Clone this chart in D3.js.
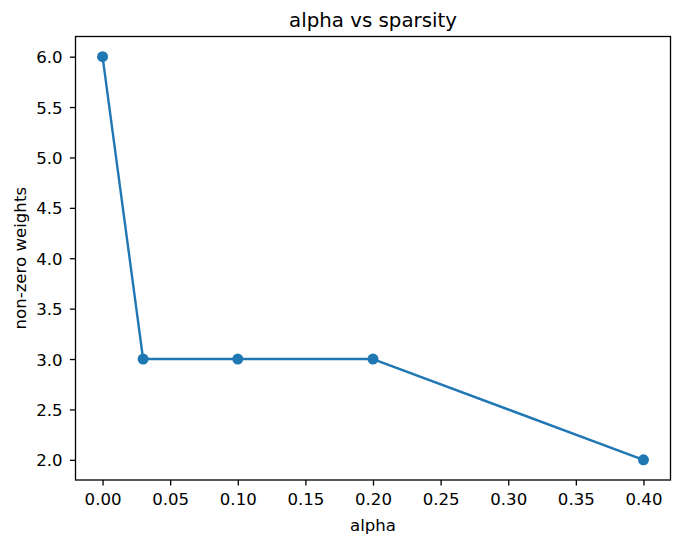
<!DOCTYPE html>
<html>
<head>
<meta charset="utf-8">
<script src="https://cdn.jsdelivr.net/npm/d3@7"></script>
<style>
  body { margin: 0; background: #fff; }
  text { font-family: "DejaVu Sans", sans-serif; fill: #000; }
</style>
</head>
<body>
<div id="chart"></div>
<script>
var alphas = [0, 0.03, 0.1, 0.2, 0.4];
var weights = [6, 3, 3, 3, 2];
var xTicks = [0, 0.05, 0.1, 0.15, 0.2, 0.25, 0.3, 0.35, 0.4];
var yTicks = [2, 2.5, 3, 3.5, 4, 4.5, 5, 5.5, 6];

var svgWidth = 681;
var svgHeight = 546;
var margin = { top: 36.5, right: 10.5, bottom: 66, left: 75.5 };
var chartWidth = svgWidth - margin.left - margin.right;
var chartHeight = svgHeight - margin.top - margin.bottom;

var svg = d3.select("#chart").append("svg")
    .attr("width", svgWidth)
    .attr("height", svgHeight);

var chartGroup = svg.append("g")
    .attr("transform", `translate(${margin.left},${margin.top})`);

// matplotlib-style 5% padding
var x = d3.scaleLinear().domain([-0.02, 0.42]).range([0, chartWidth]);
var y = d3.scaleLinear().domain([1.8, 6.2]).range([chartHeight, 0]);

var bottomAxis = d3.axisBottom(x).tickValues(xTicks).tickSize(5.6).tickPadding(8)
    .tickFormat(d3.format(".2f"));
var leftAxis = d3.axisLeft(y).tickValues(yTicks).tickSize(5.6).tickPadding(7.3)
    .tickFormat(d3.format(".1f"));

var xg = chartGroup.append("g")
    .attr("transform", `translate(0,${chartHeight})`)
    .call(bottomAxis);
var yg = chartGroup.append("g").call(leftAxis);

[xg, yg].forEach(function(g) {
  g.select(".domain").remove();
  g.selectAll(".tick line").attr("stroke", "#000").attr("stroke-width", 1.3);
  g.selectAll(".tick text").attr("font-size", 16.6).attr("font-family", "DejaVu Sans").attr("fill", "#000");
});
yg.selectAll(".tick text").attr("dy", "0.36em");

var line = d3.line()
    .x(function(d, i) { return x(alphas[i]); })
    .y(function(d) { return y(d); });

chartGroup.append("path")
    .datum(weights)
    .attr("fill", "none")
    .attr("stroke", "#1f77b4")
    .attr("stroke-width", 2.4)
    .attr("stroke-linejoin", "round")
    .attr("d", line);

chartGroup.selectAll("circle")
    .data(weights)
    .enter()
    .append("circle")
    .attr("cx", function(d, i) { return x(alphas[i]); })
    .attr("cy", function(d) { return y(d); })
    .attr("r", 5.5)
    .attr("fill", "#1f77b4");

chartGroup.append("rect")
    .attr("width", chartWidth)
    .attr("height", chartHeight)
    .attr("fill", "none")
    .attr("stroke", "#000")
    .attr("stroke-width", 1.3);

chartGroup.append("text")
    .attr("x", chartWidth / 2)
    .attr("y", -10)
    .attr("text-anchor", "middle")
    .attr("font-size", 19.8)
    .text("alpha vs sparsity");

chartGroup.append("text")
    .attr("x", chartWidth / 2)
    .attr("y", chartHeight + 51)
    .attr("text-anchor", "middle")
    .attr("font-size", 16.6)
    .text("alpha");

chartGroup.append("text")
    .attr("transform", "rotate(-90)")
    .attr("x", -chartHeight / 2)
    .attr("y", -50)
    .attr("text-anchor", "middle")
    .attr("font-size", 16.6)
    .text("non-zero weights");
</script>
</body>
</html>
